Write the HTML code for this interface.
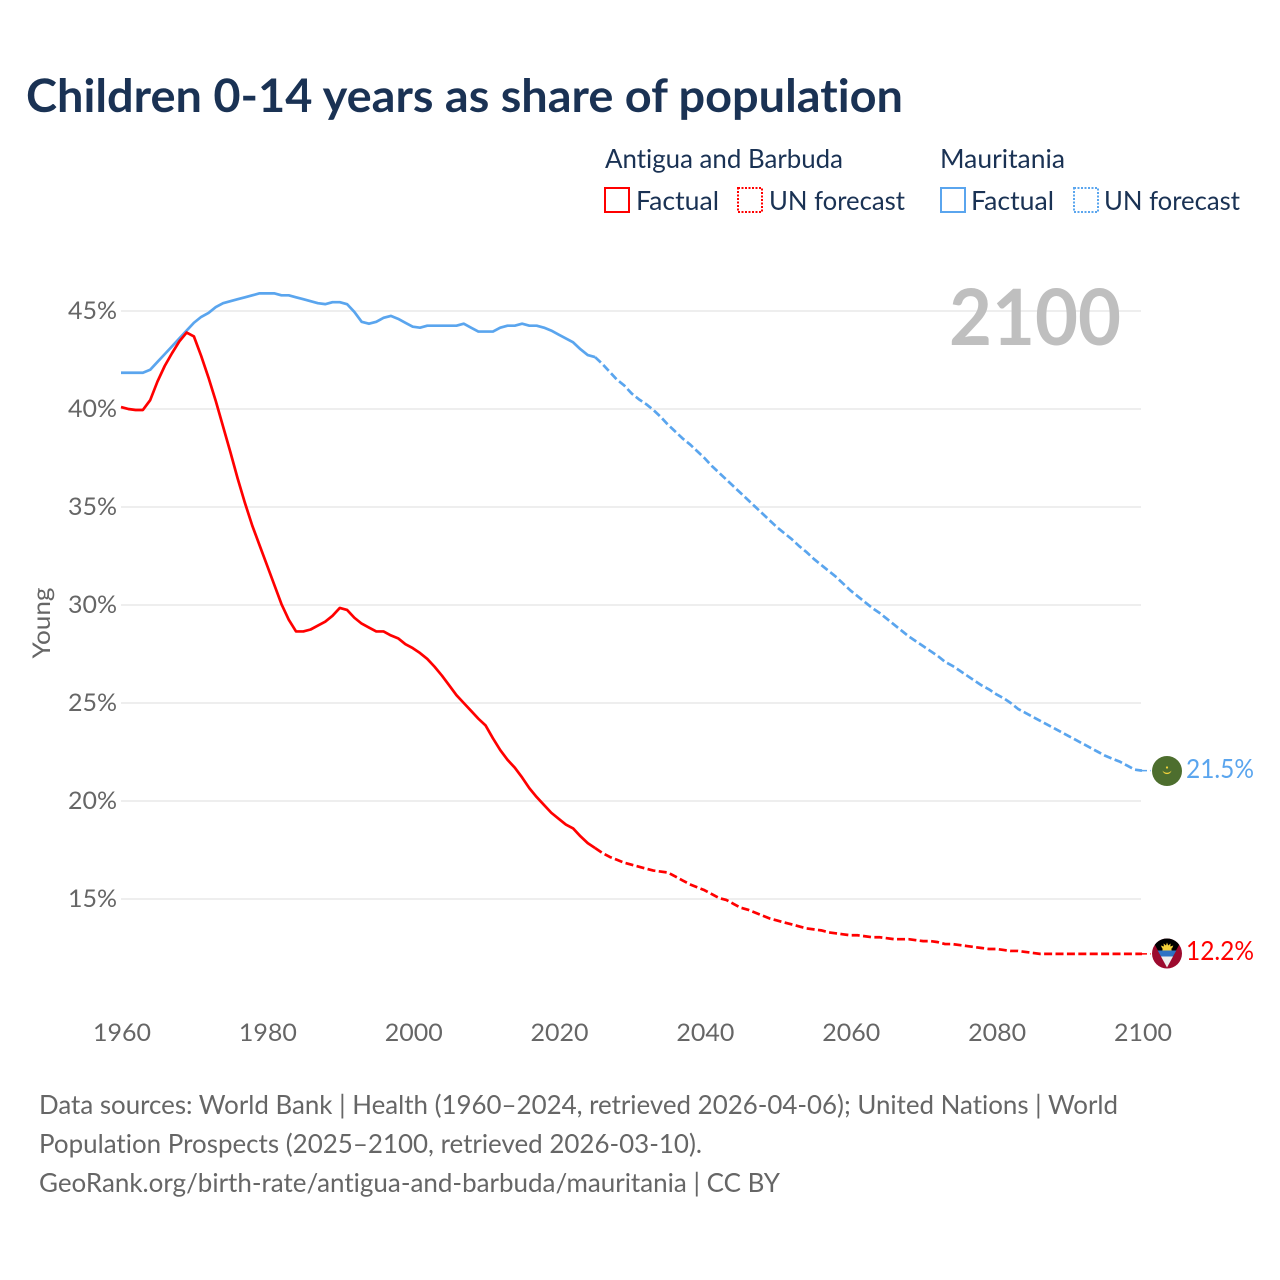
<!DOCTYPE html>
<html lang="en">
<head>
<meta charset="utf-8">
<title>Children 0-14 years as share of population</title>
<style>
html,body{margin:0;padding:0;background:#fff;width:1280px;height:1280px;overflow:hidden}
svg{display:block}
text{font-family:"Lato","Carlito","Liberation Sans",sans-serif;font-variant-ligatures:none;font-feature-settings:"liga" 0,"clig" 0}
</style>
</head>
<body>
<svg id="chart" xmlns="http://www.w3.org/2000/svg" width="1280" height="1280" viewBox="0 0 1280 1280">
  <rect width="1280" height="1280" fill="#fff"/>
  <text x="26" y="112" font-size="46" font-weight="700" fill="#1a3254" textLength="877" lengthAdjust="spacingAndGlyphs">Children 0-14 years as share of population</text>

  <g font-size="26" fill="#1a3254">
    <text x="605" y="168" textLength="238" lengthAdjust="spacingAndGlyphs">Antigua and Barbuda</text>
    <text x="940" y="168" textLength="125" lengthAdjust="spacingAndGlyphs">Mauritania</text>
    <rect x="605" y="188" width="24" height="24" fill="none" stroke="#ff0000" stroke-width="2"/>
    <text x="636" y="210" textLength="83" lengthAdjust="spacingAndGlyphs">Factual</text>
    <rect x="738" y="188" width="24" height="24" fill="none" stroke="#ff0000" stroke-width="2" stroke-dasharray="2 1.5"/>
    <text x="769" y="210" textLength="136" lengthAdjust="spacingAndGlyphs">UN forecast</text>
    <rect x="941" y="188" width="24" height="24" fill="none" stroke="#5aa5ee" stroke-width="2"/>
    <text x="971" y="210" textLength="83" lengthAdjust="spacingAndGlyphs">Factual</text>
    <rect x="1074" y="188" width="24" height="24" fill="none" stroke="#5aa5ee" stroke-width="2" stroke-dasharray="2 1.5"/>
    <text x="1104" y="210" textLength="136" lengthAdjust="spacingAndGlyphs">UN forecast</text>
  </g>

  <g id="grid"></g>
  <g id="yticks" font-size="24" fill="#666666"></g>
  <g id="xticks" font-size="24" fill="#666666"></g>
  <text transform="translate(50,623) rotate(-90)" text-anchor="middle" font-size="24" fill="#666666" textLength="71" lengthAdjust="spacingAndGlyphs">Young</text>

  <text x="949" y="345" font-size="78" font-weight="700" fill="#bfbfbf" textLength="172" lengthAdjust="spacingAndGlyphs">2100</text>

  <g id="series"></g>

  <defs>
    <clipPath id="flag-clip-mr"><circle cx="1167" cy="771" r="15"/></clipPath>
    <clipPath id="flag-clip-ag"><circle cx="1167" cy="953.5" r="15"/></clipPath>
  </defs>
  <g clip-path="url(#flag-clip-mr)">
    <rect x="1150" y="754" width="34" height="34" fill="#4d6e2e"/>
    <path d="M1162.5 770.5a4.6 4.6 0 0 0 9 0a5.6 5.6 0 0 1-9 0z" fill="#f2d23c"/>
    <circle cx="1167" cy="767.5" r="1.1" fill="#f2d23c"/>
  </g>
  <g clip-path="url(#flag-clip-ag)">
    <rect x="1150" y="936" width="34" height="36" fill="#9c0a2e"/>
    <path d="M1150 936H1184L1167 967Z" fill="#000"/>
    <circle cx="1167" cy="950" r="4.6" fill="#f4d03a"/>
    <path d="M1167 942.5l1.2 3 2.4-2 -.3 3 3-1 -1.3 3h-9.800l-1.300-3 3 1-.3-3 2.400 2z" fill="#f4d03a"/>
    <path d="M1157.700 950.500H1176.300L1173 956.500H1161Z" fill="#2e72c4"/>
    <path d="M1161 956.500H1173L1167 967.500Z" fill="#eeeeee"/>
  </g>

  <text x="1186" y="778" font-size="26" fill="#5aa5ee" textLength="68" lengthAdjust="spacingAndGlyphs">21.5%</text>
  <text x="1186" y="960" font-size="26" fill="#ff0000" textLength="68" lengthAdjust="spacingAndGlyphs">12.2%</text>

  <g font-size="26.500" fill="#666666">
    <text x="39" y="1114" textLength="1079" lengthAdjust="spacingAndGlyphs">Data sources: World Bank | Health (1960–2024, retrieved 2026-04-06); United Nations | World</text>
    <text x="39" y="1153" textLength="663" lengthAdjust="spacingAndGlyphs">Population Prospects (2025–2100, retrieved 2026-03-10).</text>
    <text x="39" y="1192" textLength="741" lengthAdjust="spacingAndGlyphs">GeoRank.org/birth-rate/antigua-and-barbuda/mauritania | CC BY</text>
  </g>
</svg>
<script>
const yTickValues = [15, 20, 25, 30, 35, 40, 45];
const xTickYears = [1960, 1980, 2000, 2020, 2040, 2060, 2080, 2100];

const factualYears = [1960,1961,1962,1963,1964,1965,1966,1967,1968,1969,1970,1971,1972,1973,1974,1975,1976,1977,1978,1979,1980,1981,1982,1983,1984,1985,1986,1987,1988,1989,1990,1991,1992,1993,1994,1995,1996,1997,1998,1999,2000,2001,2002,2003,2004,2005,2006,2007,2008,2009,2010,2011,2012,2013,2014,2015,2016,2017,2018,2019,2020,2021,2022,2023,2024,2025];
const forecastYears = [2025,2026,2027,2028,2029,2030,2031,2032,2033,2034,2035,2036,2037,2038,2039,2040,2041,2042,2043,2044,2045,2046,2047,2048,2049,2050,2051,2052,2053,2054,2055,2056,2057,2058,2059,2060,2061,2062,2063,2064,2065,2066,2067,2068,2069,2070,2071,2072,2073,2074,2075,2076,2077,2078,2079,2080,2081,2082,2083,2084,2085,2086,2087,2088,2089,2090,2091,2092,2093,2094,2095,2096,2097,2098,2099,2100];

const antiguaFactual = [40.1,40.0,39.95,39.95,40.45,41.4,42.2,42.85,43.45,43.9,43.7,42.7,41.6,40.4,39.1,37.8,36.45,35.2,34.05,33.05,32.05,31.05,30.05,29.25,28.65,28.65,28.75,28.95,29.15,29.45,29.85,29.75,29.35,29.05,28.85,28.65,28.65,28.45,28.3,28.0,27.8,27.55,27.25,26.85,26.4,25.9,25.4,25.0,24.6,24.2,23.85,23.2,22.6,22.1,21.7,21.2,20.65,20.2,19.8,19.4,19.1,18.8,18.6,18.2,17.85,17.6];
const antiguaForecast = [17.6,17.35,17.15,17.0,16.85,16.75,16.65,16.55,16.45,16.4,16.35,16.15,15.95,15.75,15.6,15.45,15.25,15.05,14.95,14.75,14.55,14.45,14.3,14.15,14.0,13.9,13.8,13.7,13.6,13.5,13.45,13.4,13.3,13.25,13.2,13.15,13.15,13.1,13.05,13.05,13.0,12.95,12.95,12.95,12.9,12.85,12.85,12.8,12.7,12.7,12.65,12.6,12.55,12.5,12.45,12.45,12.4,12.35,12.35,12.3,12.25,12.2,12.2,12.2,12.2,12.2,12.2,12.2,12.2,12.2,12.2,12.2,12.2,12.2,12.2,12.2];

const mauritaniaFactual = [41.85,41.85,41.85,41.85,42.0,42.4,42.8,43.2,43.6,44.0,44.4,44.7,44.9,45.2,45.4,45.5,45.6,45.7,45.8,45.9,45.9,45.9,45.8,45.8,45.7,45.6,45.5,45.4,45.35,45.45,45.45,45.35,44.95,44.45,44.35,44.45,44.65,44.75,44.6,44.4,44.2,44.15,44.25,44.25,44.25,44.25,44.25,44.35,44.15,43.95,43.95,43.95,44.15,44.25,44.25,44.35,44.25,44.25,44.15,44.0,43.8,43.6,43.4,43.05,42.75,42.65];
const mauritaniaForecast = [42.65,42.3,41.9,41.5,41.2,40.8,40.5,40.25,39.95,39.6,39.2,38.85,38.5,38.2,37.85,37.5,37.1,36.75,36.4,36.05,35.7,35.35,35.0,34.65,34.3,33.95,33.65,33.35,33.0,32.7,32.35,32.05,31.75,31.45,31.1,30.75,30.45,30.15,29.85,29.6,29.3,29.0,28.7,28.4,28.15,27.9,27.65,27.4,27.1,26.9,26.65,26.4,26.15,25.9,25.7,25.45,25.25,25.0,24.7,24.5,24.3,24.1,23.9,23.7,23.5,23.3,23.1,22.9,22.7,22.5,22.3,22.15,22.0,21.8,21.6,21.55];

const NS = 'http://www.w3.org/2000/svg';
function xScale(year) { return 121 + (year - 1960) * (1021 / 140); }
function yScale(value) { return 311 + (45 - value) * 19.6; }

function make(tag, attrs, parent) {
  const el = document.createElementNS(NS, tag);
  for (const k in attrs) el.setAttribute(k, attrs[k]);
  parent.appendChild(el);
  return el;
}

const gridGroup = document.getElementById('grid');
const yTickGroup = document.getElementById('yticks');
const xTickGroup = document.getElementById('xticks');
const seriesGroup = document.getElementById('series');

yTickValues.forEach(function (v) {
  const line = make('line', { x1: 121, x2: 1141, y1: yScale(v), y2: yScale(v), stroke: '#eeeeee', 'stroke-width': 2 }, gridGroup);
  
  
  const label = make('text', { x: 117, y: yScale(v) + 8, 'text-anchor': 'end', textLength: 49, lengthAdjust: 'spacingAndGlyphs' }, yTickGroup);
  label.textContent = v + '%';
  
  
});

xTickYears.forEach(function (yr) {
  const label = make('text', { x: xScale(yr) + 1, y: 1041, 'text-anchor': 'middle', textLength: 58, lengthAdjust: 'spacingAndGlyphs' }, xTickGroup);
  label.textContent = String(yr);
  
  
});

function drawLine(years, values, color, dashed, name) {
  const pts = years.map(function (yr, i) {
    return xScale(yr).toFixed(2) + ',' + yScale(values[i]).toFixed(2);
  }).join(' ');
  const attrs = { points: pts, fill: 'none', stroke: color, 'stroke-width': 2.7, 'stroke-linejoin': 'round' };
  if (dashed) attrs['stroke-dasharray'] = '8 3.4';
  const el = make('polyline', attrs, seriesGroup);
  
  
}

function drawConnector(years, values, color, name) {
  const last = years.length - 1;
  const yEnd = yScale(values[last]);
  const el = make('line', { x1: xScale(years[last]), x2: 1151, y1: yEnd, y2: yEnd, stroke: color, 'stroke-width': 1.4, 'stroke-dasharray': '8 3.4', 'stroke-dashoffset': 3 }, seriesGroup);
  
  
}

drawLine(factualYears, mauritaniaFactual, '#5aa5ee', false, 'line-mauritania-factual');
drawLine(forecastYears, mauritaniaForecast, '#5aa5ee', true, 'line-mauritania-forecast');
drawConnector(forecastYears, mauritaniaForecast, '#5aa5ee', 'connector-mauritania');
drawLine(factualYears, antiguaFactual, '#ff0000', false, 'line-antigua-factual');
drawLine(forecastYears, antiguaForecast, '#ff0000', true, 'line-antigua-forecast');
drawConnector(forecastYears, antiguaForecast, '#ff0000', 'connector-antigua');
</script>
</body>
</html>
